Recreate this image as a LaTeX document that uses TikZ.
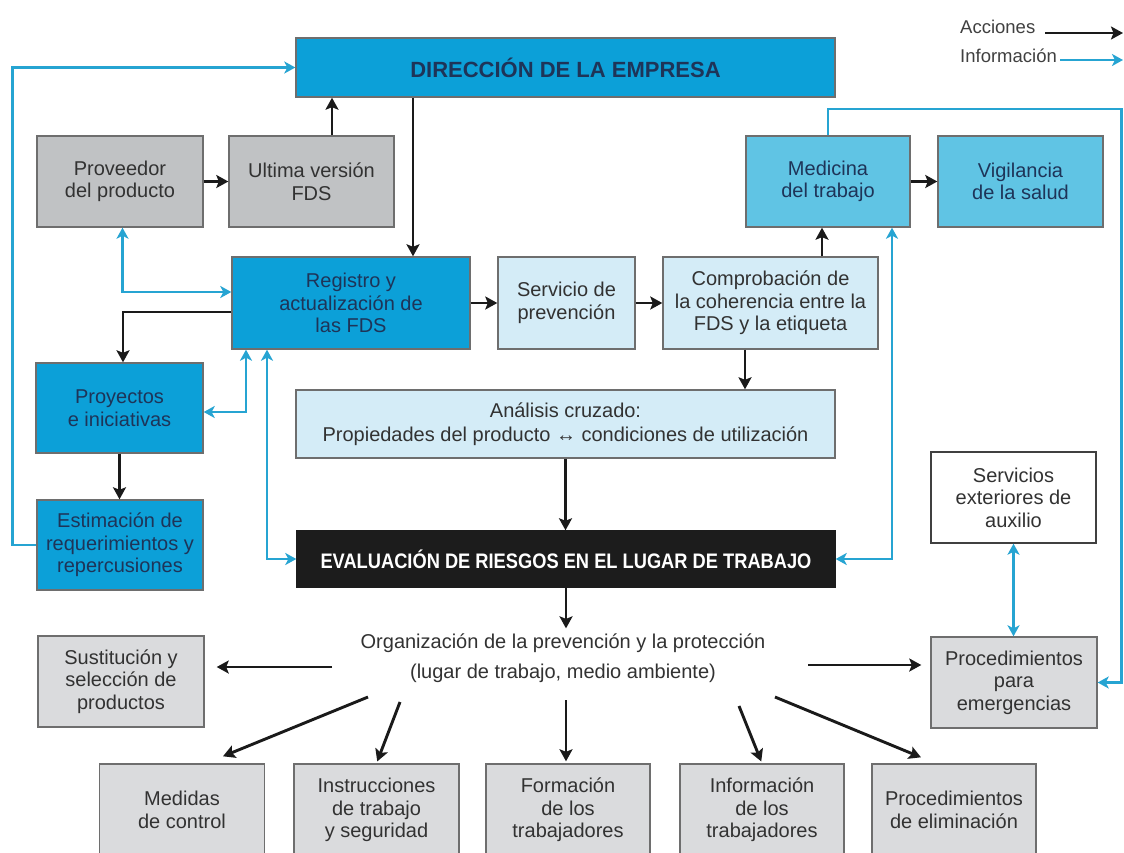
\documentclass[tikz,border=0pt]{standalone}
\usepackage{fontspec}
\usepackage{graphicx}
\setmainfont{Liberation Sans}
\usetikzlibrary{arrows.meta}
\definecolor{bstrong}{RGB}{12,160,216}
\definecolor{bmed}{RGB}{96,196,228}
\definecolor{blight}{RGB}{212,236,247}
\definecolor{gdark}{RGB}{192,194,196}
\definecolor{glight}{RGB}{218,219,221}
\definecolor{infoc}{RGB}{38,164,210}
\definecolor{navy}{RGB}{30,52,88}
\definecolor{txt}{RGB}{50,50,50}
\definecolor{bord}{RGB}{110,110,110}
\definecolor{evalbg}{RGB}{28,28,28}
\definecolor{actc}{RGB}{26,26,26}
\tikzset{
  box/.style={draw=bord, line width=1.4pt, align=center, inner sep=0pt,
              font=\fontsize{20}{22.5}\selectfont, text=txt},
  sb/.style={box, fill=bstrong, text=navy},
  mb/.style={box, fill=bmed, text=navy},
  lb/.style={box, fill=blight},
  gd/.style={box, fill=gdark},
  gl/.style={box, fill=glight},
  act/.style={line width=2.9pt, draw=actc, -{Stealth[length=12pt,width=13pt,inset=2.5pt]}},
  inf/.style={line width=2.8pt, draw=infoc, -{Stealth[length=11pt,width=12pt,inset=3pt]}},
  infb/.style={inf, {Stealth[length=11pt,width=12pt,inset=3pt]}-{Stealth[length=11pt,width=12pt,inset=3pt]}},
  legtext/.style={font=\fontsize{18.5}{20}\selectfont, text=black!75, anchor=base west, inner sep=0pt}
}
\begin{document}
\begin{tikzpicture}[x=1pt,y=-1pt]
\useasboundingbox (0,0) rectangle (1124,852);
\fill[white] (0,0) rectangle (1124,852);

% nodes
\node[sb, minimum width=539pt, minimum height=59pt, font=\bfseries\fontsize{22}{24}\selectfont] (dir) at (565.5,67.5) {DIRECCIÓN DE LA EMPRESA};
\node[gd, minimum width=166pt, minimum height=91pt] (prov) at (120,181.5) {Proveedor\\del producto};
\node[gd, minimum width=165pt, minimum height=91pt] (ult) at (311.5,181.5) {Ultima versión\\FDS};
\node[mb, minimum width=164pt, minimum height=91pt] (med) at (828,181.5) {Medicina\\del trabajo};
\node[mb, minimum width=165pt, minimum height=91pt] (vig) at (1020.5,181.5) {Vigilancia\\de la salud};
\node[sb, minimum width=238pt, minimum height=92pt] (reg) at (351,303) {Registro y\\actualización de\\las FDS};
\node[lb, minimum width=137pt, minimum height=92pt] (serv) at (566.5,303) {Servicio de\\prevención};
\node[lb, minimum width=215pt, minimum height=92pt] (comp) at (770.5,303) {Comprobación de\\la coherencia entre la\\FDS y la etiqueta};
\node[sb, minimum width=167pt, minimum height=90pt] (proy) at (119.5,408) {Proyectos\\e iniciativas};
\node[lb, minimum width=539pt, minimum height=68pt, font=\fontsize{20}{24}\selectfont] (anal) at (565.5,424) {Análisis cruzado:\\Propiedades del producto ↔ condiciones de utilización};
\node[sb, minimum width=166pt, minimum height=90pt] (est) at (120,545) {Estimación de\\requerimientos y\\repercusiones};
\node[box, fill=evalbg, draw=evalbg, text=white, minimum width=538pt, minimum height=56pt] (eval) at (566,559) {\scalebox{0.87}[1]{\bfseries\fontsize{21}{24}\selectfont EVALUACIÓN DE RIESGOS EN EL LUGAR DE TRABAJO}};
\node[box, fill=white, draw=black!75, minimum width=165pt, minimum height=91pt] (sext) at (1013.5,497.5) {Servicios\\exteriores de\\auxilio};
\node[gl, minimum width=166pt, minimum height=91pt] (sust) at (121,681.5) {Sustitución y\\selección de\\productos};
\node[gl, minimum width=166pt, minimum height=91pt] (emer) at (1014,682.5) {Procedimientos\\para\\emergencias};
\node[align=center, inner sep=0pt, font=\fontsize{20}{30}\selectfont, text=txt] (org) at (563,658) {Organización de la prevención y la protección\\(lugar de trabajo, medio ambiente)};
\node[gl, minimum width=165pt, minimum height=92pt] (medc) at (182,810) {Medidas\\de control};
\node[gl, minimum width=165pt, minimum height=92pt] (instr) at (376.5,810) {Instrucciones\\de trabajo\\y seguridad};
\node[gl, minimum width=164pt, minimum height=92pt] (form) at (568,810) {Formación\\de los\\trabajadores};
\node[gl, minimum width=164pt, minimum height=92pt] (info) at (762,810) {Información\\de los\\trabajadores};
\node[gl, minimum width=164pt, minimum height=92pt] (elim) at (954,810) {Procedimientos\\de eliminación};

% legend
\node[legtext] (lacc) at (960,33) {Acciones};
\node[legtext] (linf) at (960,62) {Información};
\coordinate (legR) at (1123,0);
\draw[act] ([xshift=10pt]lacc.base east) -- (lacc.base -| legR);
\draw[inf] ([xshift=3pt,yshift=2pt]linf.base east) -- ([yshift=2pt]linf.base -| legR);

% action connectors
\draw[act] (prov.east) -- (ult.west);
\draw[act] ([xshift=20.5pt]ult.north) -- ([xshift=20.5pt]ult.north |- dir.south);
\draw[act] ([xshift=62pt]reg.north |- dir.south) -- ([xshift=62pt]reg.north);
\draw[act] (reg.east) -- (serv.west);
\draw[act] (serv.east) -- (comp.west);
\draw[act] ([xshift=-25.5pt]comp.south) -- ([xshift=-25.5pt]comp.south |- anal.north);
\draw[act] ([xshift=51.5pt]comp.north) -- ([xshift=51.5pt]comp.north |- med.south);
\draw[act] (med.east) -- (vig.west);
\draw[act] (anal.south) -- (anal.south |- eval.north);
\draw[act] ([yshift=-9pt]reg.west) -| ([xshift=3.5pt]proy.north);
\draw[act] (proy.south) -- (proy.south |- est.north);
\draw[act, shorten >=5pt] (eval.south) -- (eval.south |- org.north);

\coordinate (oL) at (332,667);
\coordinate (oR) at (808,665);
\coordinate (o1) at (368,697);
\coordinate (o2) at (400,702);
\coordinate (o3) at (566,700);
\coordinate (o4) at (739,706);
\coordinate (o5) at (775,697);
\draw[act, shorten >=12pt] (oL) -- (oL -| sust.east);
\draw[act, shorten >=9pt] (oR) -- (oR -| emer.west);
\draw[act] (o1) -- ([xshift=41pt,yshift=7pt]medc.north);
\draw[act, shorten >=2pt] (o2) -- (instr.north);
\draw[act, shorten >=2pt] (o3) -- (o3 |- form.north);
\draw[act, shorten >=2pt] (o4) -- (info.north);
\draw[act] (o5) -- ([xshift=-33pt,yshift=6pt]elim.north);

% information connectors
\coordinate (lft) at (12.5,300);
\coordinate (tr) at (1121.5,109);
\draw[inf] (est.west) -- (est.west -| lft) -- (dir.west -| lft) -- (dir.west);
\draw[infb] ([xshift=2.5pt]prov.south) |- ([yshift=11pt]reg.west);
\draw[infb] ([yshift=-4pt]proy.east) -| ([xshift=-105pt]reg.south);
\draw[infb] ([xshift=-84pt]reg.south) |- (eval.west);
\draw[infb] ([xshift=64pt]med.south) |- (eval.east);
\draw[inf] (med.north) |- (tr) |- (emer.east);
\draw[infb] (sext.south) -- (sext.south |- emer.north);
\end{tikzpicture}
\end{document}
